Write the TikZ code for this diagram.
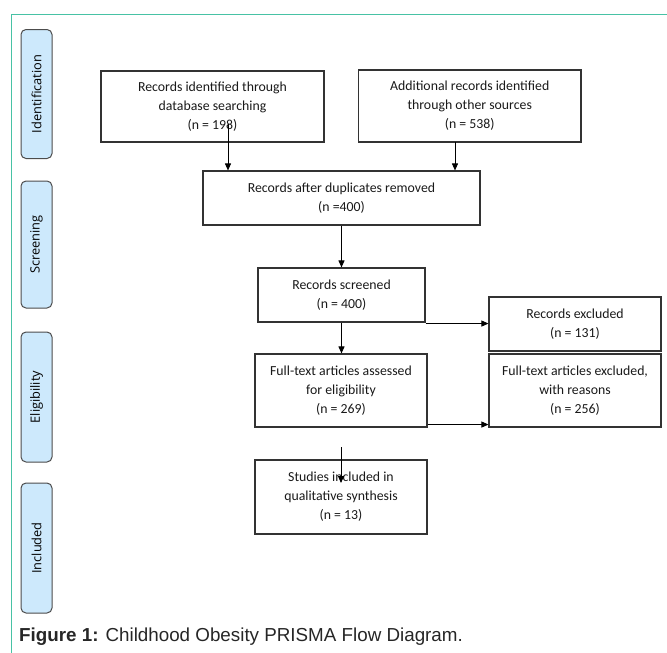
\documentclass[tikz,border=0pt]{standalone}
\usepackage{fontspec}
\setmainfont{Carlito}
\newfontfamily\stagefont{Open Sans}
\newfontfamily\capfont{Liberation Sans}
\usetikzlibrary{arrows.meta}
\definecolor{frameteal}{RGB}{72,194,165}
\definecolor{stageblue}{RGB}{205,233,252}
\begin{document}
\begin{tikzpicture}[x=1pt, y=-1pt]

        % Styles for the flow boxes, the stage tabs and the arrows
        \tikzset{
            flowbox/.style={draw=black!80, line width=1.1pt, rectangle, inner sep=0pt, align=center,
                text=black!90, font=\fontsize{13.8}{19}\selectfont},
            stagetab/.style={draw=black!70, line width=1pt, fill=stageblue, rounded corners=5pt,
                rotate=90, inner sep=0pt, font=\stagefont\fontsize{12.8}{14}\selectfont},
            flowarrow/.style={-{Triangle[length=7pt, width=6pt]}, line width=0.9pt, black}
        }

        \useasboundingbox (0,0) rectangle (667,653);

        % --- Page frame (top and left edges only) ---
        \draw[frameteal, line width=1pt] (11,653) -- (11,14) -- (667,14);

        % --- Stage tabs on the left ---
        \foreach \name/\y/\h/\txt in {tabid/94/129/Identification, tabscr/244.5/127/Screening,
                                      tabelig/397/130/Eligibility, tabincl/548/130/Included}
            \node[stagetab, minimum width=\h pt, minimum height=31pt] (\name) at (36.5,\y) {\txt};

        % --- Identification ---
        \node[flowbox, minimum width=223pt, minimum height=71pt] (dbrec) at (212.5,106.5)
            {Records identified through\\database searching\\(n = 198)};
        \node[flowbox, minimum width=222.5pt, minimum height=72pt] (otherrec) at (469.75,106)
            {Additional records identified\\through other sources\\(n = 538)};

        % --- Screening ---
        \node[flowbox, minimum width=277pt, minimum height=54pt] (dedup) at (341.5,198)
            {Records after duplicates removed\\(n =400)};
        \node[flowbox, minimum width=167pt, minimum height=54pt] (screened) at (341.5,295)
            {Records screened\\(n = 400)};
        \node[flowbox, minimum width=172pt, minimum height=54pt] (recexcl) at (575,324)
            {Records excluded\\(n = 131)};

        % --- Eligibility ---
        \node[flowbox, minimum width=172pt, minimum height=73pt] (fulltext) at (341,390.5)
            {Full-text articles assessed\\for eligibility\\(n = 269)};
        \node[flowbox, minimum width=172pt, minimum height=73pt] (fullexcl) at (575,390.5)
            {Full-text articles excluded,\\with reasons\\(n = 256)};

        % --- Included ---
        \node[flowbox, minimum width=172pt, minimum height=74pt] (studies) at (341,497)
            {Studies included in\\qualitative synthesis\\(n = 13)};

        % --- Arrows ---
        \coordinate (dbstart) at (228,124);
        \coordinate (otherstart) at (455,142);
        \draw[flowarrow] (dbstart) -- (dbstart |- dedup.north);
        \draw[flowarrow] (otherstart) -- (otherstart |- dedup.north);
        \draw[flowarrow] (dedup.south) -- (screened.north);
        \draw[flowarrow] (screened.south) -- (screened.south |- fulltext.north);
        \draw[flowarrow] ([yshift=-1pt]screened.south east) -- ([yshift=-1pt]screened.south east -| recexcl.west);
        \draw[flowarrow] ([yshift=3pt]fulltext.south east) -- ([yshift=3pt]fulltext.south east -| fullexcl.west);
        \coordinate (inclstart) at (341,447);
        \coordinate (incltip) at (341,483);
        \draw[flowarrow] (inclstart) -- (incltip);

        % --- Caption ---
        \node[anchor=west, inner sep=0pt, text=black!85, font=\capfont\fontsize{18.8}{20}\selectfont] (caption) at (19,637)
            {\textbf{Figure 1:} Childhood Obesity PRISMA Flow Diagram.};

\end{tikzpicture}
\end{document}
